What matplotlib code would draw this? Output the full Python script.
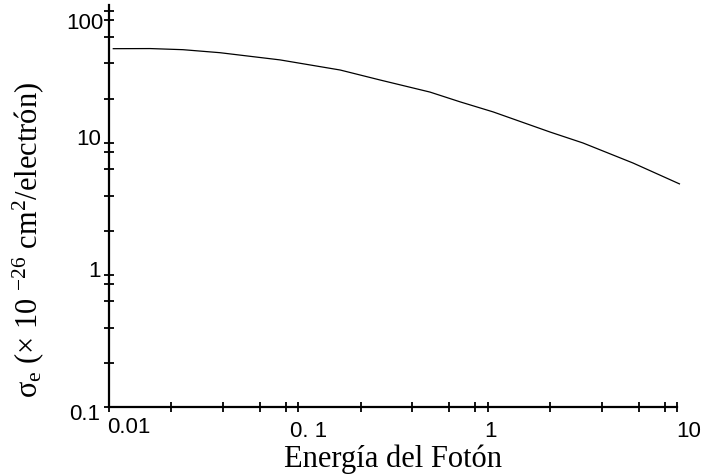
import numpy as np
import matplotlib
matplotlib.use("Agg")
import matplotlib.pyplot as plt
from matplotlib.ticker import NullFormatter

# ---- data ----
energy = [0.0106, 0.0166, 0.0247, 0.0387, 0.0803, 0.167, 0.271, 0.497,
          0.716, 1.07, 2.14, 3.19, 5.86, 10.3]
sigma = [51.8, 51.9, 50.9, 48.3, 42.6, 35.7, 30.0, 24.3,
         20.5, 17.2, 12.1, 10.0, 7.05, 4.9]

x_ticks = [0.01, 0.1, 1, 10]
x_tick_labels = ["0.01", "0. 1", "1", "10"]
y_ticks = [0.1, 1, 10, 100]
y_tick_labels = ["0.1", "1", "10", "100"]
minor_factors = [2.15, 4.0, 6.3, 8.6]

plt.rcParams['mathtext.fontset'] = 'custom'
plt.rcParams['mathtext.rm'] = 'Liberation Serif'
plt.rcParams['mathtext.it'] = 'Liberation Serif:italic'
plt.rcParams['mathtext.bf'] = 'Liberation Serif:bold'

fig = plt.figure(figsize=(7.02, 4.75), dpi=100)
W, H = 702, 475
x0, x1 = 108.5, 677.0       # pixel of 0.01 and 10
yb, yt = 407.0, 5.5         # pixel of 0.1 and top
ax = fig.add_axes([x0 / W, (H - yb) / H, (x1 - x0) / W, (yb - yt) / H])

ax.plot(energy, sigma, color='black', lw=0.9, clip_on=False)

ax.set_xscale('log')
ax.set_yscale('log')
ax.set_xlim(0.01, 10)
ax.set_ylim(0.1, 110)

for s in ['top', 'right']:
    ax.spines[s].set_visible(False)
for s in ['left', 'bottom']:
    ax.spines[s].set_linewidth(1.6)

ax.set_xticks(x_ticks)
ax.set_yticks(y_ticks)
ax.set_xticklabels([''] * len(x_ticks))
ax.set_yticklabels([''] * len(y_ticks))
xminor = [d * f for d in [0.01, 0.1, 1] for f in minor_factors]
yminor = [d * f for d in [0.1, 1, 10] for f in minor_factors]
ax.set_xticks(xminor, minor=True)
ax.set_yticks(yminor, minor=True)
ax.xaxis.set_minor_formatter(NullFormatter())
ax.yaxis.set_minor_formatter(NullFormatter())
ax.tick_params(which='both', direction='inout', length=6.5, width=1.3,
               color='black')

px = 0.72  # points per pixel
tick_font = dict(family='Liberation Sans', fontsize=16, color='black')

# x tick labels: (dx, baseline dy) in pixels
x_off = [(20, 25.7), (11, 30), (3.5, 30), (11.5, 30)]
for v, lab, (dx, dy) in zip(x_ticks, x_tick_labels, x_off):
    ax.annotate(lab, xy=(v, 0), xycoords=('data', 'axes fraction'),
                xytext=(dx * px, -dy * px), textcoords='offset points',
                ha='center', va='baseline', annotation_clip=False, **tick_font)

# y tick labels: (right-edge dx, baseline dy) in pixels relative to tick
y_off = [(-8.5, 13), (-7.5, 2), (-7, 2), (-5.5, 18)]
for v, lab, (dx, dy) in zip(y_ticks, y_tick_labels, y_off):
    ax.annotate(lab, xy=(0, v), xycoords=('axes fraction', 'data'),
                xytext=(dx * px, -dy * px), textcoords='offset points',
                ha='right', va='baseline', annotation_clip=False, **tick_font)

ax.set_xlabel('Energía del Fotón', family='Liberation Serif', fontsize=22)
ax.xaxis.set_label_coords(0.5, -(467 - yb) / (yb - yt))
ax.xaxis.label.set_va('baseline')

ax.set_ylabel('σ$_{\\mathrm{e}}$ (× 10 $^{-26}$ cm$^{2}$/electrón)',
              family='Liberation Serif', fontsize=22)
ax.yaxis.set_label_coords((37.5 - x0) / (x1 - x0), (yb - 240) / (yb - yt))
ax.yaxis.label.set_va('baseline')

fig.savefig('out.png', dpi=100)
